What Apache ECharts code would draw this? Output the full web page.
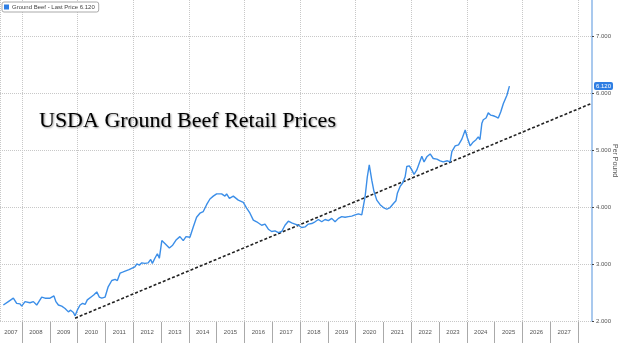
<!DOCTYPE html>
<html>
<head>
<meta charset="utf-8">
<script src="https://cdn.jsdelivr.net/npm/echarts@6/dist/echarts.min.js"></script>
<style>html,body{margin:0;padding:0;background:#fff}#c{width:620px;height:343px}</style>
</head>
<body>
<div id="c"></div>
<script>
// Ground beef retail price (USD per pound)
var years = [2007.33,2007.51,2007.69,2007.81,2007.93,2007.99,2008.11,2008.17,2008.29,2008.41,2008.53,2008.71,2008.83,2008.89,2009.01,2009.07,2009.15,2009.22,2009.31,2009.43,2009.55,2009.67,2009.75,2009.85,2009.91,2009.99,2010.09,2010.18,2010.27,2010.35,2010.42,2010.51,2010.59,2010.69,2010.78,2010.87,2010.99,2011.10,2011.23,2011.35,2011.43,2011.53,2011.64,2011.85,2012.06,2012.13,2012.22,2012.31,2012.42,2012.54,2012.63,2012.69,2012.78,2012.87,2012.94,2013.03,2013.14,2013.30,2013.42,2013.54,2013.68,2013.74,2013.80,2013.90,2014.04,2014.16,2014.28,2014.40,2014.52,2014.64,2014.76,2014.88,2015.00,2015.06,2015.18,2015.30,2015.36,2015.46,2015.60,2015.78,2015.96,2016.08,2016.20,2016.32,2016.44,2016.62,2016.74,2016.86,2016.98,2017.10,2017.22,2017.34,2017.46,2017.58,2017.70,2017.82,2017.94,2018.06,2018.18,2018.30,2018.42,2018.54,2018.66,2018.78,2018.90,2019.02,2019.14,2019.26,2019.38,2019.50,2019.62,2019.74,2019.86,2019.98,2020.10,2020.22,2020.34,2020.42,2020.49,2020.58,2020.66,2020.76,2020.88,2021.00,2021.12,2021.24,2021.36,2021.45,2021.50,2021.60,2021.69,2021.78,2021.84,2021.93,2022.02,2022.10,2022.20,2022.29,2022.38,2022.46,2022.56,2022.68,2022.79,2022.92,2023.04,2023.15,2023.30,2023.40,2023.46,2023.58,2023.70,2023.82,2023.94,2024.02,2024.12,2024.21,2024.33,2024.41,2024.47,2024.54,2024.59,2024.69,2024.77,2024.86,2024.95,2025.05,2025.13,2025.22,2025.31,2025.37,2025.44,2025.53];
var prices = [2.28,2.34,2.40,2.31,2.30,2.26,2.34,2.37,2.32,2.34,2.28,2.42,2.40,2.37,2.40,2.38,2.44,2.34,2.28,2.26,2.22,2.16,2.19,2.15,2.09,2.19,2.28,2.31,2.29,2.37,2.34,2.43,2.46,2.51,2.42,2.40,2.42,2.60,2.71,2.73,2.71,2.84,2.86,2.90,2.95,3.00,2.98,3.02,3.01,3.02,3.08,3.01,3.10,3.18,3.10,3.41,3.36,3.28,3.33,3.42,3.48,3.51,3.41,3.48,3.47,3.65,3.82,3.89,3.92,4.04,4.14,4.19,4.23,4.25,4.23,4.19,4.23,4.15,4.19,4.12,4.08,3.98,3.89,3.77,3.74,3.68,3.70,3.61,3.57,3.58,3.55,3.57,3.68,3.75,3.72,3.70,3.68,3.64,3.65,3.70,3.71,3.74,3.78,3.74,3.78,3.76,3.80,3.74,3.80,3.83,3.82,3.83,3.84,3.86,3.88,3.86,4.18,4.53,4.74,4.47,4.27,4.12,4.04,3.99,3.96,3.99,4.06,4.11,4.24,4.36,4.42,4.53,4.71,4.72,4.65,4.57,4.65,4.77,4.89,4.79,4.88,4.93,4.85,4.84,4.81,4.79,4.81,4.79,4.97,5.07,5.09,5.19,5.35,5.21,5.07,5.13,5.18,5.23,5.18,5.47,5.53,5.56,5.65,5.61,5.60,5.58,5.56,5.67,5.81,5.82,5.96,6.12];
// dashed trend line end points
var trendYears = [2009.91, 2028.5];
var trendValues = [2.05, 5.82];
// axis ticks
var yearBoundaries = [2008,2009,2010,2011,2012,2013,2014,2015,2016,2017,2018,2019,2020,2021,2022,2023,2024,2025,2026,2027,2028];
var yearLabels = [2007.6,2008.5,2009.5,2010.5,2011.5,2012.5,2013.5,2014.5,2015.5,2016.5,2017.5,2018.5,2019.5,2020.5,2021.5,2022.5,2023.5,2024.5,2025.5,2026.5,2027.5];
var priceTicks = [2,3,4,5,6,7];

var lastPrice = prices[prices.length - 1];
var xMin = 2007.21, xMax = 2028.5;

var chart = echarts.init(document.getElementById('c'), null, {renderer: 'canvas'});
chart.setOption({
  animation: false,
  backgroundColor: '#fff',
  textStyle: {fontFamily: 'Liberation Sans, Arial, sans-serif'},
  title: {
    text: 'USDA Ground Beef Retail Prices',
    left: 34, top: 105,
    textStyle: {
      fontFamily: 'Liberation Serif, Times New Roman, serif',
      fontSize: 22, fontWeight: 'normal', color: '#000',
      textShadowColor: 'rgba(0,0,0,0.45)', textShadowBlur: 2,
      textShadowOffsetX: 1, textShadowOffsetY: 1
    }
  },
  legend: {
    left: 2, top: 2,
    padding: [2, 4, 2, 2],
    itemWidth: 5, itemHeight: 5, itemGap: 2,
    icon: 'rect',
    borderColor: '#aaa', borderWidth: 1, borderRadius: 2,
    backgroundColor: '#fff',
    textStyle: {fontSize: 6, color: '#444', padding: [0, 0, 0, -2]},
    data: ['Ground Beef'],
    formatter: function (n) { return n + ' - Last Price ' + lastPrice.toFixed(3); }
  },
  grid: [
    {left: 0, right: 28, top: 0, bottom: 22, outerBoundsMode: 'none', containLabel: false},
    {left: 0, right: 28, top: 322, height: 21, outerBoundsMode: 'none', containLabel: false}
  ],
  xAxis: [
    {
      type: 'value', gridIndex: 0, min: xMin, max: xMax, splitNumber: 10,
      axisLine: {show: false},
      axisTick: {show: false},
      axisLabel: {show: false},
      splitLine: {show: true, lineStyle: {color: '#c8c8c8', type: 'dotted', width: 1}}
    },
    {
      type: 'value', gridIndex: 1, min: xMin, max: xMax, position: 'top',
      axisLine: {show: true, lineStyle: {color: '#aaa', width: 1}},
      axisTick: {show: false, customValues: yearBoundaries},
      axisLabel: {
        show: true, inside: true, margin: 7, fontSize: 6, color: '#555',
        customValues: yearLabels,
        formatter: function (v) { return String(Math.floor(v)); }
      },
      splitLine: {show: true, lineStyle: {color: '#aaa', width: 1}}
    }
  ],
  yAxis: [
    {
      type: 'value', gridIndex: 0, position: 'right', min: 2, max: 7.63,
      name: 'Per Pound', nameLocation: 'middle', nameGap: 19, nameRotate: -90,
      nameMoveOverlap: false,
      nameTextStyle: {fontSize: 7, color: '#555'},
      axisLine: {show: true, lineStyle: {color: '#a9c9ee', width: 2}},
      axisTick: {show: true, length: 2, customValues: priceTicks, lineStyle: {color: '#444'}},
      axisLabel: {
        fontSize: 6, color: '#555', margin: 4, customValues: priceTicks,
        formatter: function (v) { return v.toFixed(3); }
      },
      splitLine: {show: true, lineStyle: {color: '#c8c8c8', type: 'dotted', width: 1}}
    },
    {type: 'value', gridIndex: 1, show: false, min: 0, max: 1}
  ],
  series: [
    {
      name: 'Ground Beef', type: 'line', xAxisIndex: 0, yAxisIndex: 0,
      data: years.map(function (y, i) { return [y, prices[i]]; }),
      showSymbol: false, symbol: 'none', clip: false,
      lineStyle: {color: '#3b8ee8', width: 1.4},
      itemStyle: {color: '#2f7ee3'},
      markLine: {
        silent: true, symbol: 'none',
        lineStyle: {width: 0.5, color: 'rgba(0,0,0,0)', type: 'solid'},
        data: [{yAxis: lastPrice}],
        label: {
          show: true, position: 'end', distance: 2, opacity: 1,
          formatter: function () { return lastPrice.toFixed(3); },
          backgroundColor: '#2f7ee3', color: '#fff', fontSize: 6,
          padding: [1, 2, 1, 2], borderRadius: 2
        }
      },
      z: 3
    },
    {
      name: 'trend', type: 'line', xAxisIndex: 0, yAxisIndex: 0,
      data: trendYears.map(function (y, i) { return [y, trendValues[i]]; }),
      showSymbol: false, symbol: 'none',
      lineStyle: {color: '#222', width: 1.6, type: [3, 2]},
      z: 2
    }
  ]
});
</script>
</body>
</html>
